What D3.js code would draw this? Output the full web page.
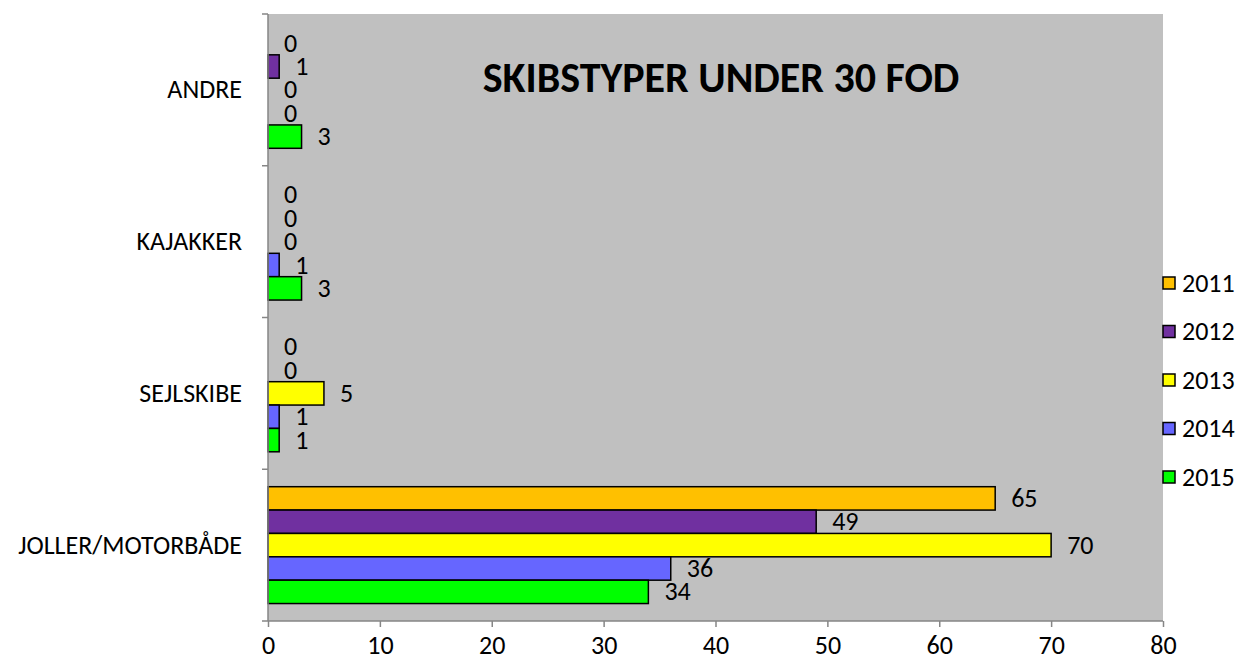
<!DOCTYPE html>
<html>
<head>
<meta charset="UTF-8">
<title>Skibstyper under 30 fod</title>
<script src="https://d3js.org/d3.v7.min.js"></script>
<style>
html, body { margin: 0; padding: 0; background: white; }
svg { font-family: Carlito, Lato, 'Open Sans', sans-serif; display: block; }
</style>
</head>
<body>
<script>
// data
var categories = ["ANDRE", "KAJAKKER", "SEJLSKIBE", "JOLLER/MOTORBÅDE"];
var years = ["2011", "2012", "2013", "2014", "2015"];
var colors = ["#FFC000", "#7030A0", "#FFFF00", "#6666FF", "#00FF00"];
var v2011 = [0, 0, 0, 65];
var v2012 = [1, 0, 0, 49];
var v2013 = [0, 0, 5, 70];
var v2014 = [0, 1, 1, 36];
var v2015 = [3, 3, 1, 34];
var xTicks = [0, 10, 20, 30, 40, 50, 60, 70, 80];
var title = "SKIBSTYPER UNDER 30 FOD";

var series = [v2011, v2012, v2013, v2014, v2015];

var width = 1241, height = 666;
var plotL = 268, plotR = 1163, plotT = 14, plotB = 621;
var fs = 26;

var svg = d3.select("body").append("svg")
    .attr("width", width)
    .attr("height", height);

var x = d3.scaleLinear().domain([0, 80]).range([plotL, plotR]);
var y = d3.scaleBand().domain(categories).range([plotT, plotB]).paddingInner(0.23).paddingOuter(0.115);
var yAll = d3.scaleBand().domain(categories).range([plotT, plotB]);
var ySub = d3.scaleBand().domain(years).range([0, y.bandwidth()]);

// plot background
svg.append("rect")
    .attr("x", plotL).attr("y", plotT)
    .attr("width", plotR - plotL).attr("height", plotB - plotT)
    .attr("fill", "#C0C0C0");

// bars
var groups = svg.append("g").selectAll("g")
    .data(series)
    .join("g")
    .attr("fill", function (d, i) { return colors[i]; });

groups.each(function (vals, si) {
    var g = d3.select(this);
    g.selectAll("rect")
        .data(vals)
        .join("rect")
        .attr("x", x(0))
        .attr("y", function (d, ci) { return y(categories[ci]) + ySub(years[si]); })
        .attr("width", function (d) { return x(d) - x(0); })
        .attr("height", ySub.bandwidth())
        .attr("stroke", "#000")
        .attr("stroke-width", 1.5)
        .attr("display", function (d) { return d > 0 ? null : "none"; });
    g.selectAll("text")
        .data(vals)
        .join("text")
        .attr("x", function (d) { return x(d) + 16; })
        .attr("y", function (d, ci) { return y(categories[ci]) + ySub(years[si]) + ySub.bandwidth() / 2; })
        .attr("dy", "0.33em")
        .attr("fill", "#000")
        .attr("font-size", fs)
        .text(function (d) { return d; });
});

// x axis
var xAxis = svg.append("g")
    .attr("transform", "translate(0," + plotB + ")")
    .call(d3.axisBottom(x).tickValues(xTicks).tickSize(6).tickPadding(9));
xAxis.selectAll("path, line").attr("stroke", "#868686").attr("stroke-width", 1.5);
xAxis.select(".domain").attr("d", "M" + plotL + ",0H" + plotR);
xAxis.attr("font-family", null).attr("font-size", null);
xAxis.selectAll("text").attr("font-size", fs).attr("fill", "#000");

// y axis: line and ticks at category boundaries
var yAxis = svg.append("g");
yAxis.append("line")
    .attr("x1", plotL).attr("x2", plotL).attr("y1", plotT).attr("y2", plotB)
    .attr("stroke", "#868686").attr("stroke-width", 1.5);
var bounds = categories.map(function (c) { return yAll(c); }).concat([plotB]);
yAxis.selectAll("line.tick")
    .data(bounds)
    .join("line")
    .attr("class", "tick")
    .attr("x1", plotL - 6).attr("x2", plotL)
    .attr("y1", function (d) { return d; }).attr("y2", function (d) { return d; })
    .attr("stroke", "#868686").attr("stroke-width", 1.5);
yAxis.selectAll("text")
    .data(categories)
    .join("text")
    .attr("x", 242)
    .attr("y", function (c) { return yAll(c) + yAll.bandwidth() / 2; })
    .attr("dy", "0.33em")
    .attr("text-anchor", "end")
    .attr("font-size", fs)
    .text(function (c) { return c; });

// title
svg.append("text")
    .attr("x", 721).attr("y", 92)
    .attr("text-anchor", "middle")
    .attr("font-size", 42)
    .attr("font-weight", "bold")
    .text(title);

// legend
var legend = svg.append("g").selectAll("g")
    .data(years)
    .join("g")
    .attr("transform", function (d, i) { return "translate(1163," + (283 + i * 48.5) + ")"; });
legend.append("rect")
    .attr("x", 0).attr("y", -6)
    .attr("width", 12).attr("height", 12)
    .attr("fill", function (d, i) { return colors[i]; })
    .attr("stroke", "#000").attr("stroke-width", 1.5);
legend.append("text")
    .attr("x", 19).attr("dy", "0.33em")
    .attr("font-size", fs)
    .text(function (d) { return d; });
</script>
</body>
</html>
